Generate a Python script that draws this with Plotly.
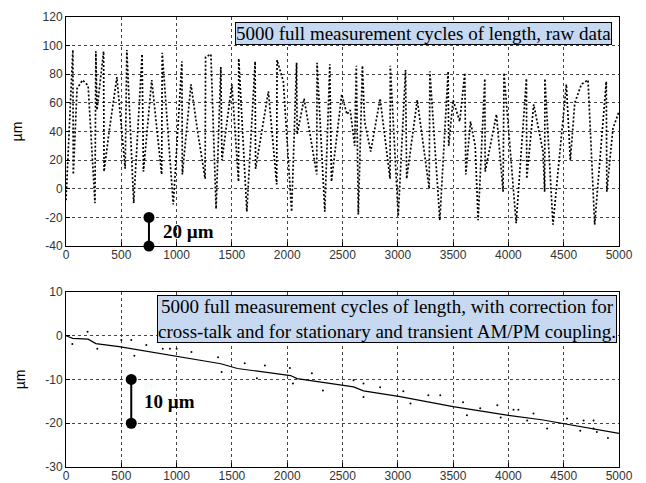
import plotly.graph_objects as go
from plotly.subplots import make_subplots

# raw length signal, vertices of the zigzag
raw_x = [0, 62, 66, 100, 150, 200, 262, 270, 280, 340, 344, 390, 460, 535, 550, 612,
         688, 700, 775, 865, 870, 970, 1048, 1052, 1130, 1190, 1258, 1262, 1310, 1357,
         1400, 1410, 1500, 1560, 1562, 1635, 1710, 1714, 1830, 1905, 1908, 1965, 2040,
         2085, 2090, 2153, 2267, 2270, 2340, 2385, 2400, 2493, 2540, 2570, 2610, 2625,
         2643, 2680, 2700, 2755, 2840, 2930, 2932, 3004, 3070, 3080, 3176, 3284, 3290,
         3380, 3455, 3460, 3500, 3560, 3606, 3615, 3657, 3700, 3726, 3787, 3790, 3892,
         3952, 3960, 4070, 4163, 4166, 4229, 4313, 4328, 4330, 4403, 4524, 4560, 4600,
         4660, 4720, 4780, 4885, 4890, 4945, 5000]
raw_y = [-8, 97, 10, 70, 76, 72, -10, 96, 55, 96, 12, 40, 78, 14, 97, -10,
         94, 12, 76, 10, 95, -11, 89, 10, 73, 40, 7, 92, 94, -14,
         85, 20, 73, 5, 91, -16, 89, 14, 68, 3, 90, 75, -16,
         88, 38, 63, 10, 88, -16, 87, 5, 66, 52, 55, 30, 86,
         -18, 86, 47, 26, 63, 7, 86, -19, 83, 7, 62, 0, 82,
         -22, 82, 30, 62, 47, 81, 10, 47, 30, -22, 77, 12, 52,
         -2, 81, -24, 77, 7, 59, 26, -2, 77, -25, 73, 20, 60,
         73, 76, -25, 75, -2, 42, 54]

# corrected length, main trend
corr_x = [0, 60, 200, 270, 480, 1000, 1300, 1400, 1550, 2030, 2090, 2500, 2600,
          2690, 3020, 3500, 4000, 4300, 4600, 4750, 5000]
corr_y = [0, -0.6, -0.8, -1.8, -2.5, -4.8, -6.0, -6.4, -7.5, -9.1, -9.8, -11.3, -11.7,
          -12.6, -13.9, -16.2, -18.2, -19.2, -20.5, -21.3, -22.3]

# scattered outliers around the corrected trend
out_x = [57, 195, 283, 500, 590, 618, 726, 875, 940, 1000, 1134, 1375, 1407, 1616,
         1726, 1798, 2024, 2052, 2223, 2323, 2600, 2690, 2690, 2840, 3050, 3115,
         3276, 3384, 3590, 3625, 3745, 3900, 3930, 4046, 4090, 4170, 4227, 4350,
         4530, 4650, 4680, 4770, 4770, 4800, 4900]
out_y = [-1.9, 0.9, -3.0, -1.0, -1.0, -4.6, -2.1, -3.0, -3.0, -3.0, -3.7, -4.9, -8.3,
         -6.3, -9.7, -6.8, -7.4, -10.9, -8.6, -12.5, -10.2, -10.9, -14.0, -11.8, -12.7,
         -15.5, -13.6, -13.6, -15.2, -18.2, -16.6, -15.9, -18.7, -16.9, -16.9, -19.4,
         -17.8, -21.2, -18.9, -21.7, -19.4, -19.4, -21.2, -22.0, -23.4]

# scale bars
bar1_x, bar1_y = [750, 750], [-20, -40]
bar2_x, bar2_y = [590, 590], [-10, -20]

# tick labels (plain hyphen minus as in the original)
x_ticks = [0, 500, 1000, 1500, 2000, 2500, 3000, 3500, 4000, 4500, 5000]
y1_ticks = [-40, -20, 0, 20, 40, 60, 80, 100, 120]
y2_ticks = [-30, -20, -10, 0, 10]

fig = make_subplots(rows=2, cols=1, vertical_spacing=0.1)
fig.update_layout(
    yaxis=dict(domain=[0.491, 1.0]),
    yaxis2=dict(domain=[0.0, 0.389]),
)

fig.add_trace(go.Scatter(x=raw_x, y=raw_y, mode="lines",
                         line=dict(color="black", width=1.7, dash="2px,2px")), row=1, col=1)
fig.add_trace(go.Scatter(x=corr_x, y=corr_y, mode="lines",
                         line=dict(color="black", width=1.2)), row=2, col=1)
fig.add_trace(go.Scatter(x=out_x, y=out_y, mode="markers",
                         marker=dict(color="black", size=2)), row=2, col=1)
fig.add_trace(go.Scatter(x=bar1_x, y=bar1_y, mode="lines+markers", cliponaxis=False,
                         line=dict(color="black", width=2),
                         marker=dict(color="black", size=11)), row=1, col=1)
fig.add_trace(go.Scatter(x=bar2_x, y=bar2_y, mode="lines+markers", cliponaxis=False,
                         line=dict(color="black", width=2),
                         marker=dict(color="black", size=11)), row=2, col=1)

axis_style = dict(
    showline=True, mirror=True, linecolor="black", linewidth=1,
    ticks="inside", ticklen=4, tickcolor="black",
    showgrid=True, gridcolor="#444", gridwidth=1, griddash="dot",
    zeroline=False, automargin=False,
    tickfont=dict(family="Liberation Sans, Arial", size=12, color="#333"),
)
fig.update_xaxes(range=[0, 5000], tickvals=x_ticks, ticklabelstandoff=-2,
                 ticktext=[str(v) for v in x_ticks], **axis_style)
fig.update_yaxes(range=[-40, 120], tickvals=y1_ticks,
                 ticktext=[str(v) for v in y1_ticks], row=1, col=1, **axis_style)
fig.update_yaxes(range=[-30, 10], tickvals=y2_ticks,
                 ticktext=[str(v) for v in y2_ticks], row=2, col=1, **axis_style)
for r in (1, 2):
    fig.update_yaxes(title=dict(text="µm", standoff=16,
                                font=dict(family="Liberation Sans, Arial", size=14, color="black")),
                     row=r, col=1)

box_font = dict(family="Liberation Serif, Times New Roman", size=19, color="black")
fig.add_annotation(xref="x domain", yref="y domain", x=0.987, y=0.977,
                   xanchor="right", yanchor="top", showarrow=False,
                   text="5000 full measurement cycles of length, raw data",
                   font=box_font, bgcolor="#c6d9f1", bordercolor="black",
                   borderwidth=1, borderpad=0)
fig.add_annotation(xref="x2 domain", yref="y2 domain", x=0.997, y=0.985,
                   xanchor="right", yanchor="top", showarrow=False, align="center",
                   text="5000 full measurement cycles of length, with correction for<br>"
                        "cross-talk and for stationary and transient AM/PM coupling.",
                   font=box_font, bgcolor="#c6d9f1", bordercolor="black",
                   borderwidth=1, borderpad=0)

label_font = dict(family="Liberation Serif, Times New Roman", size=19, color="black")
fig.add_annotation(x=bar1_x[0], y=-30, xref="x", yref="y", xshift=12, xanchor="left",
                   showarrow=False, text="<b>20 µm</b>", font=label_font)
fig.add_annotation(x=bar2_x[0], y=-15, xref="x2", yref="y2", xshift=11, xanchor="left",
                   showarrow=False, text="<b>10 µm</b>", font=label_font)

fig.update_layout(
    width=646, height=483, showlegend=False,
    margin=dict(l=66, r=27, t=17, b=16),
    paper_bgcolor="white", plot_bgcolor="white",
)

fig.write_html("out.html", config={"displayModeBar": False},
               post_script="document.body.style.margin='0px';")
